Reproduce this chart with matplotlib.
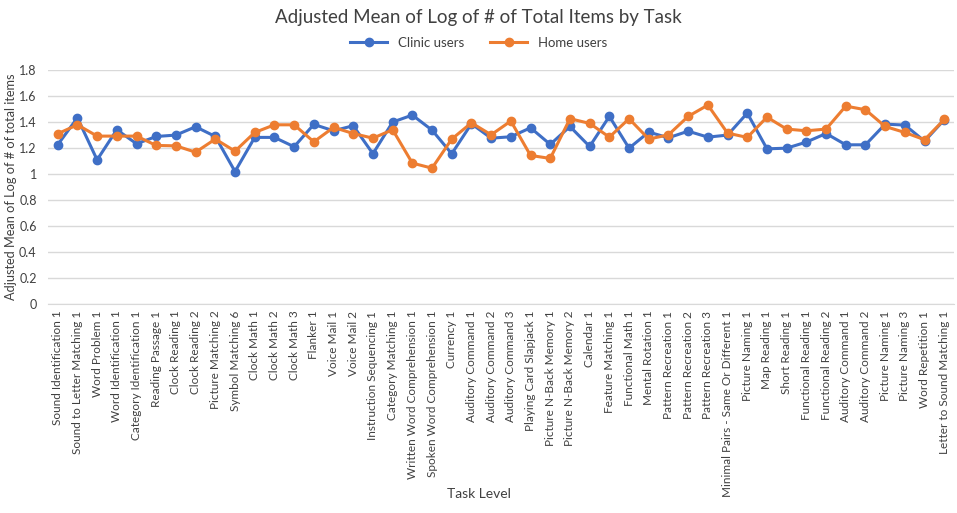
import numpy as np
import matplotlib.pyplot as plt

plt.rcParams['font.family'] = ['Lato', 'DejaVu Sans']

tasks = [
    'Sound Identification 1', 'Sound to Letter Matching 1', 'Word Problem 1',
    'Word Identification 1', 'Category Identification 1', 'Reading Passage 1',
    'Clock Reading 1', 'Clock Reading 2', 'Picture Matching 2', 'Symbol Matching 6',
    'Clock Math 1', 'Clock Math 2', 'Clock Math 3', 'Flanker 1', 'Voice Mail 1',
    'Voice Mail 2', 'Instruction Sequencing 1', 'Category Matching 1',
    'Written Word Comprehension 1', 'Spoken Word Comprehension 1', 'Currency 1',
    'Auditory Command 1', 'Auditory Command 2', 'Auditory Command 3',
    'Playing Card Slapjack 1', 'Picture N-Back Memory 1', 'Picture N-Back Memory 2',
    'Calendar 1', 'Feature Matching 1', 'Functional Math 1', 'Mental Rotation 1',
    'Pattern Recreation 1', 'Pattern Recreation 2', 'Pattern Recreation 3',
    'Minimal Pairs - Same Or Different 1', 'Picture Naming 1', 'Map Reading 1',
    'Short Reading 1', 'Functional Reading 1', 'Functional Reading 2',
    'Auditory Command 1', 'Auditory Command 2', 'Picture Naming 1',
    'Picture Naming 3', 'Word Repetition 1', 'Letter to Sound Matching 1',
]

clinic = [
    1.224, 1.432, 1.108, 1.340, 1.232, 1.288, 1.299, 1.363, 1.288, 1.018,
    1.281, 1.281, 1.209, 1.381, 1.332, 1.371, 1.155, 1.399, 1.453, 1.337,
    1.155, 1.386, 1.275, 1.286, 1.355, 1.227, 1.365, 1.211, 1.443, 1.198,
    1.322, 1.278, 1.329, 1.283, 1.299, 1.468, 1.193, 1.198, 1.245, 1.311,
    1.224, 1.224, 1.383, 1.376, 1.252, 1.417,
]

home = [
    1.309, 1.378, 1.291, 1.291, 1.291, 1.219, 1.216, 1.167, 1.268, 1.175,
    1.319, 1.378, 1.378, 1.247, 1.358, 1.311, 1.275, 1.340, 1.083, 1.044,
    1.268, 1.393, 1.301, 1.407, 1.142, 1.119, 1.425, 1.389, 1.283, 1.425,
    1.268, 1.301, 1.443, 1.530, 1.314, 1.281, 1.437, 1.345, 1.332, 1.345,
    1.522, 1.494, 1.365, 1.319, 1.263, 1.419,
]

x = np.arange(len(tasks))

fig = plt.figure(figsize=(9.57, 5.13), dpi=100)
ax = fig.add_axes([0.050, 0.408, 0.947, 0.4555])

ax.plot(x, clinic, color='#3F6FC6', linewidth=2.2, marker='o', markersize=6,
        label='Clinic users', zorder=3)
ax.plot(x, home, color='#ED7D31', linewidth=2.2, marker='o', markersize=6,
        label='Home users', zorder=4)

ax.set_xlim(-0.5, len(tasks) - 0.5)
ax.set_ylim(0, 1.8)
ax.set_yticks(np.arange(0, 1.81, 0.2))
ax.set_yticklabels(['0', '0.2', '0.4', '0.6', '0.8', '1', '1.2', '1.4', '1.6', '1.8'])
ax.set_xticks(x)
ax.set_xticklabels(tasks, rotation=90, fontsize=8.5, color='#404040')
ax.tick_params(axis='y', labelsize=9, colors='#404040', length=0, pad=8)
ax.tick_params(axis='x', length=0, pad=5)

ax.grid(axis='y', color='#D9D9D9', linewidth=1)
ax.set_axisbelow(True)
for s in ['top', 'right', 'left']:
    ax.spines[s].set_visible(False)
ax.spines['bottom'].set_color('#D9D9D9')

# y label placed by hand so it is not cut at the left edge
fig.text(0.011, 0.636, 'Adjusted Mean of Log of # of total items', rotation=90,
         ha='center', va='center', fontsize=9.2, color='#404040')
fig.text(0.5, 0.03, 'Task Level', ha='center', fontsize=10, color='#404040')
fig.text(0.5, 0.955, 'Adjusted Mean of Log of # of Total Items by Task', ha='center',
         fontsize=13.5, color='#404040')

fig.legend(loc='center', bbox_to_anchor=(0.5, 0.916), ncol=2, frameon=False,
           fontsize=9.5, handlelength=2.8, columnspacing=2.0, labelcolor='#404040')

fig.savefig('out.png', dpi=100)
